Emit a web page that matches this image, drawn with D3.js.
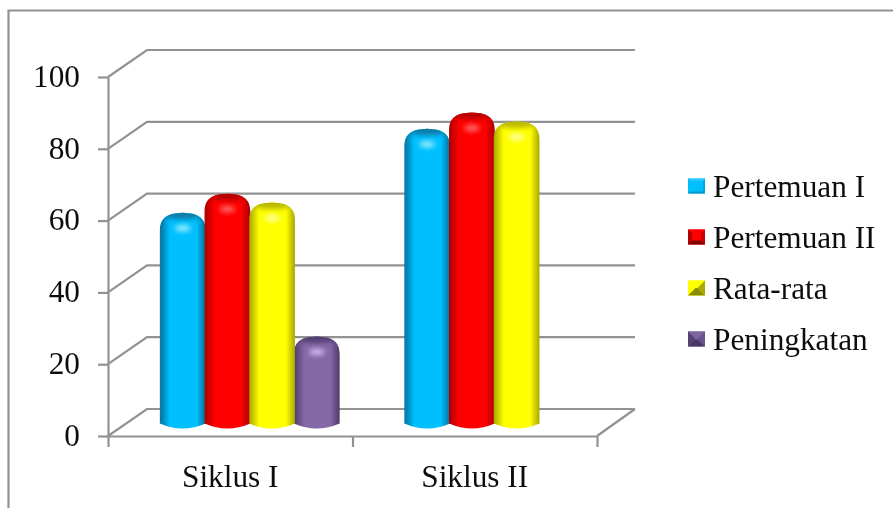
<!DOCTYPE html>
<html>
<head>
<meta charset="utf-8">
<script src="https://cdn.jsdelivr.net/npm/d3@7"></script>
<style>
html, body { margin: 0; padding: 0; background: #fff; }
svg { display: block; }
text { font-family: "Liberation Serif", serif; fill: #111; }
</style>
</head>
<body>
<div id="chart"></div>
<script>
const categories = ["Siklus I", "Siklus II"]
const seriesNames = ["Pertemuan I", "Pertemuan II", "Rata-rata", "Peningkatan"]
const pertemuan1 = [57.2, 80.6]
const pertemuan2 = [62.5, 85.1]
const rataRata = [60, 82.6]
const peningkatan = [22.7, null]
const seriesValues = [pertemuan1, pertemuan2, rataRata, peningkatan]
const yTicks = [0, 20, 40, 60, 80, 100]

const mid = ["#00bfff", "#ff0000", "#ffff00", "#8467a8"]
const edge = ["#08719b", "#a80000", "#a8a800", "#4d3a66"]
const rim = ["#077aa6", "#b40000", "#b8b800", "#533f70"]
const glow = ["#8cecff", "#ff6464", "#ffff9c", "#cdb4ee"]
const swatchShades = [
    ["#33ccff", "#00bfff", "#00a8e0", "#0095c8"],
    ["#ff0000", "#b00000", "#c80000", "#800000"],
    ["#ffff00", "#ffff00", "#a8a800", "#8c8c00"],
    ["#7d64a0", "#574372", "#6b5490", "#4a3862"]
]
const swatchInset = [2, 4, 7.5, 7]

const width = 893, height = 508
const plotLeft = 108, plotRight = 597, plotBottom = 436, plotTop = 77
const depthX = 39, depthY = 27
const gray = "#929292"
const fontSize = 31.3

const svg = d3.select("#chart").append("svg").attr("width", width).attr("height", height)
const defs = svg.append("defs")
defs.append("filter").attr("id", "soft").append("feGaussianBlur").attr("stdDeviation", 0.5)
defs.append("filter").attr("id", "capBlur").attr("x", "-50%").attr("y", "-100%").attr("width", "200%").attr("height", "300%")
    .append("feGaussianBlur").attr("stdDeviation", 2.6)

const x0 = d3.scaleBand().domain(categories).range([plotLeft, plotRight])
const y = d3.scaleLinear().domain([0, 100]).range([plotBottom, plotTop])
const x1 = d3.scaleBand().domain(d3.range(seriesNames.length))
    .range([0, x0.bandwidth()]).paddingOuter(0.735)

const root = svg.append("g").attr("filter", "url(#soft)")

// outer frame, only top and left are visible
root.append("path").attr("d", `M8.5,${height}V10.5H${width}`)
    .attr("fill", "none").attr("stroke", gray).attr("stroke-width", 2.2)

// back wall lines and the side wall
const walls = root.append("g").attr("fill", "none").attr("stroke", gray).attr("stroke-width", 2.2)
walls.selectAll("path.grid").data(yTicks).enter().append("path")
    .attr("class", "grid")
    .attr("d", d => `M${plotLeft},${y(d)}L${plotLeft + depthX},${y(d) - depthY}H${plotRight + depthX - 1}`)
walls.append("path")
    .attr("d", `M${plotRight},${plotBottom}L${plotRight + depthX - 1},${plotBottom - depthY}`)

// axes
const yAxis = root.append("g").attr("transform", `translate(${plotLeft},0)`)
    .call(d3.axisLeft(y).tickValues(yTicks).tickSize(10).tickSizeOuter(0).tickPadding(18))
const xAxis = root.append("g").attr("transform", `translate(0,${plotBottom})`)
    .call(d3.axisBottom(d3.scalePoint().domain(d3.range(categories.length + 1)).range([plotLeft, plotRight])).tickSize(11).tickSizeOuter(0).tickFormat(""))
root.selectAll(".domain, .tick line").attr("stroke", gray).attr("stroke-width", 2.2)
yAxis.selectAll("text").attr("font-size", fontSize).attr("dy", "0.3em").attr("font-family", "Liberation Serif")

root.append("g").selectAll("text").data(categories).enter().append("text")
    .attr("x", d => x0(d) + x0.bandwidth() / 2)
    .attr("y", 487)
    .attr("text-anchor", "middle")
    .attr("font-size", fontSize)
    .text(d => d)

// bars
const midShiftX = depthX / 2, midShiftY = depthY / 2
const ry = 4

seriesNames.forEach((name, i) => {
    const g = defs.append("linearGradient").attr("id", "bar" + i)
    g.append("stop").attr("offset", "0%").attr("stop-color", edge[i])
    g.append("stop").attr("offset", "22%").attr("stop-color", mid[i])
    g.append("stop").attr("offset", "80%").attr("stop-color", mid[i])
    g.append("stop").attr("offset", "100%").attr("stop-color", edge[i])
})

const barPath = (bx, w, v) => {
    const base = y(0) - midShiftY + 1
    const t = y(v) - midShiftY - ry
    const r = 17, sh = 17
    const p = d3.path()
    p.moveTo(bx, base)
    p.lineTo(bx, t + sh)
    p.bezierCurveTo(bx, t + 6, bx + 6, t + 1, bx + r, t)
    p.quadraticCurveTo(bx + w / 2, t - 1, bx + w - r, t)
    p.bezierCurveTo(bx + w - 6, t + 1, bx + w, t + 6, bx + w, t + sh)
    p.lineTo(bx + w, base)
    p.quadraticCurveTo(bx + w / 2, base + 2 * ry + 2, bx, base)
    p.closePath()
    return p.toString()
}

const bars = []
seriesValues.forEach((vals, i) => vals.forEach((v, c) => {
    if (v !== null) bars.push({ i, c, v })
}))
// purple sits behind the yellow one
const order = [3, 0, 1, 2]
bars.sort((a, b) => order.indexOf(a.i) - order.indexOf(b.i))

const barLayer = root.append("g")
bars.forEach((b, n) => {
    const w = x1.bandwidth() + 1
    const bx = x0(categories[b.c]) + x1(b.i) + midShiftX - 0.5
    const d = barPath(bx, w, b.v)
    const t = y(b.v) - midShiftY - ry
    defs.append("clipPath").attr("id", "clip" + n).append("path").attr("d", d)
    const bar = barLayer.append("g")
    bar.append("path").attr("d", d).attr("fill", `url(#bar${b.i})`)
    const cap = bar.append("g").attr("clip-path", `url(#clip${n})`)
    cap.append("ellipse").attr("cx", bx + w / 2).attr("cy", t)
        .attr("rx", w / 2).attr("ry", 6)
        .attr("fill", rim[b.i]).attr("filter", "url(#capBlur)")
    cap.append("ellipse").attr("cx", bx + w / 2).attr("cy", t + 15)
        .attr("rx", 8).attr("ry", 3.5)
        .attr("fill", glow[b.i]).attr("filter", "url(#capBlur)")
})

// legend
const legendY = d3.scalePoint().domain(seriesNames).range([186, 339])
const legend = root.append("g").selectAll("g").data(seriesNames).enter().append("g")
    .attr("transform", d => `translate(688,${legendY(d)})`)
const sw = 17, sh = 15
const sides = ins => [
    [[0, 0], [sw, 0], [sw - ins, ins], [ins, ins]],
    [[0, 0], [ins, ins], [ins, sh - ins], [0, sh]],
    [[sw, 0], [sw, sh], [sw - ins, sh - ins], [sw - ins, ins]],
    [[0, sh], [ins, sh - ins], [sw - ins, sh - ins], [sw, sh]]
]
legend.each(function (d, i) {
    const g = d3.select(this).append("g").attr("transform", `translate(0,${-sh / 2})`)
    g.append("rect").attr("width", sw).attr("height", sh).attr("fill", mid[i])
    sides(swatchInset[i]).forEach((pts, k) => g.append("polygon")
        .attr("points", pts.join(" "))
        .attr("fill", swatchShades[i][k]))
})
legend.append("text")
    .attr("x", 25)
    .attr("y", 11)
    .attr("font-size", fontSize)
    .text(d => d)
</script>
</body>
</html>
